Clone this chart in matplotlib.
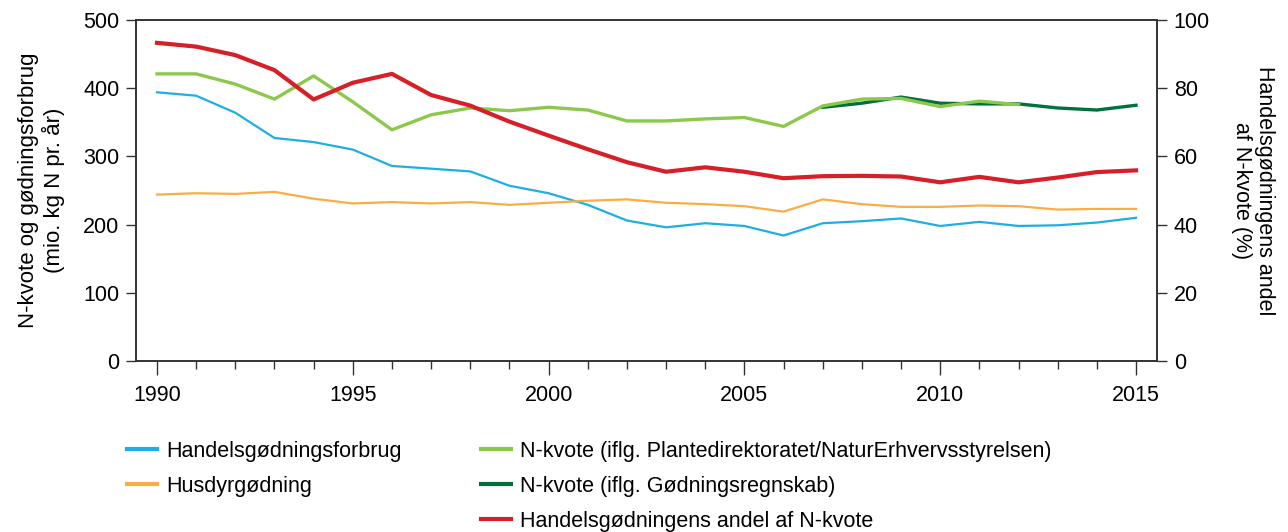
import matplotlib
matplotlib.use("Agg")
import matplotlib.pyplot as plt
from matplotlib.lines import Line2D
from matplotlib.ticker import MultipleLocator

plt.rcParams['font.family'] = ['Liberation Sans', 'DejaVu Sans']

years = list(range(1990, 2016))
handel = [394, 389, 364, 327, 321, 310, 286, 282, 278, 257, 246, 229, 206, 196, 202, 198,
          184, 202, 205, 209, 198, 204, 198, 199, 203, 210]
husdyr = [244, 246, 245, 248, 238, 231, 233, 231, 233, 229, 232, 235, 237, 232, 230, 227,
          219, 237, 230, 226, 226, 228, 227, 222, 223, 223]
years_pd = list(range(1990, 2013))
kvote_pd = [421, 421, 406, 384, 418, 380, 339, 361, 371, 367, 372, 368, 352, 352, 355, 357,
            344, 374, 384, 385, 373, 381, 376]
years_gr = list(range(2007, 2016))
kvote_gr = [372, 378, 387, 378, 377, 377, 371, 368, 375]
andel = [93.3, 92.2, 89.7, 85.3, 76.7, 81.6, 84.2, 78.0, 74.9, 70.2, 66.1, 62.1, 58.3, 55.5,
         56.8, 55.5, 53.6, 54.2, 54.3, 54.1, 52.4, 54.0, 52.4, 53.8, 55.4, 55.9]

labels = ["Handelsgødningsforbrug", "Husdyrgødning",
          "N-kvote (iflg. Plantedirektoratet/NaturErhvervsstyrelsen)",
          "N-kvote (iflg. Gødningsregnskab)",
          "Handelsgødningens andel af N-kvote"]

c_blue = "#1EAEE4"
c_orange = "#FBAD45"
c_lgreen = "#8CC84B"
c_dgreen = "#00703C"
c_red = "#D71F28"

fig = plt.figure(figsize=(12.88, 5.32), dpi=100)
ax = fig.add_axes([136/1288, 1-361/532, (1157-136)/1288, (361-20)/532])
ax2 = ax.twinx()

ax.plot(years, handel, color=c_blue, lw=1.6, zorder=3)
ax.plot(years, husdyr, color=c_orange, lw=1.6, zorder=3)
ax.plot(years_gr, kvote_gr, color=c_dgreen, lw=2.4, zorder=3)
ax.plot(years_pd, kvote_pd, color=c_lgreen, lw=2.4, zorder=4)
ax2.plot(years, andel, color=c_red, lw=3.0, zorder=5)

ax.set_xlim(1990 - 21/39.16, 2015 + 21/39.16)
ax.set_ylim(0, 500)
ax2.set_ylim(0, 100)
ax.set_yticks(range(0, 501, 100))
ax2.set_yticks(range(0, 101, 20))
ax.set_xticks(range(1990, 2016, 5))
ax.xaxis.set_minor_locator(MultipleLocator(1))

fs = 15.5
ax.tick_params(axis='y', direction='out', length=7, width=1, labelsize=fs, pad=5, color='#333333')
ax2.tick_params(axis='y', direction='out', length=7, width=1, labelsize=fs, pad=5, color='#333333')
ax.tick_params(axis='x', which='major', direction='out', length=10, width=1, labelsize=fs, pad=7, color='#333333')
ax.tick_params(axis='x', which='minor', direction='out', length=6, width=1, color='#333333')

for a in (ax, ax2):
    for s in a.spines.values():
        s.set_color('#333333')
        s.set_linewidth(1.2)

ax.set_ylabel("N-kvote og gødningsforbrug\n(mio. kg N pr. år)", fontsize=16, labelpad=13, linespacing=1.15)
ax2.set_ylabel("Handelsgødningens andel\naf N-kvote (%)", fontsize=fs, rotation=270, labelpad=47, linespacing=1.15)

h = [Line2D([], [], color=c_blue, lw=3),
     Line2D([], [], color=c_orange, lw=3),
     Line2D([], [], color=c_lgreen, lw=3),
     Line2D([], [], color=c_dgreen, lw=3),
     Line2D([], [], color=c_red, lw=3)]

common = dict(frameon=False, fontsize=fs, handlelength=1.4, handletextpad=0.4,
              labelspacing=0.65, borderpad=0, borderaxespad=0, loc='upper left')
fig.legend(h[:2], labels[:2], bbox_to_anchor=(127/1288, 1-441/532), **common)
fig.legend(h[2:], labels[2:], bbox_to_anchor=(481/1288, 1-441/532), **common)

fig.savefig("out.png", dpi=100)
